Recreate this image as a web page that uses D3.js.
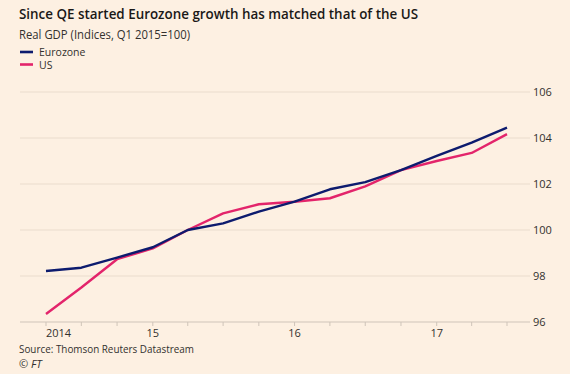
<!doctype html>
<html>
  <head>
    <meta charset="utf-8">
    <title>Eurozone vs US GDP</title>
    <style>
      html, body { margin: 0; padding: 0; background: #fdf0e2; }
      svg { display: block; font-family: "Open Sans", "Noto Sans", sans-serif; }
      .line { fill: none; stroke-width: 2.4px; stroke-linejoin: round; }
    </style>
  </head>
  <body>
    <svg id="chart" width="570" height="374"></svg>
    <script src="https://d3js.org/d3.v7.min.js"></script>
    <script>
      // quarterly real GDP, 2014 Q1 .. 2017 Q2 (Q1 2015 = 100)
      var quarters = ["2014Q1","2014Q2","2014Q3","2014Q4","2015Q1","2015Q2","2015Q3","2015Q4",
                      "2016Q1","2016Q2","2016Q3","2016Q4","2017Q1","2017Q2"];
      var eurozone = [98.22, 98.36, 98.8, 99.25, 100.0, 100.29, 100.8, 101.23,
                      101.77, 102.08, 102.6, 103.22, 103.8, 104.45];
      var us = [96.35, 97.5, 98.73, 99.2, 100.0, 100.72, 101.12, 101.23,
                101.38, 101.9, 102.6, 103.0, 103.35, 104.17];
      var yTicks = [96, 98, 100, 102, 104, 106];
      var yearTicks = ["2014", "15", "16", "17"];

      // each quarter is plotted at its end (= start of next quarter)
      function qDate(q) {
        var y = +q.slice(0, 4), n = +q.slice(5);
        return new Date(y, n * 3, 1);
      }

      var svg = d3.select("#chart");

      var x = d3.scaleTime()
        .domain([new Date(2014, 3, 1), new Date(2017, 6, 1)])
        .range([46, 507]);
      var y = d3.scaleLinear().domain([96, 106]).range([322, 92]);

      // gridlines + right hand labels
      svg.append("g").selectAll("line")
        .data(yTicks)
        .enter().append("line")
          .attr("x1", 20).attr("x2", 530)
          .attr("y1", function(d) { return y(d); })
          .attr("y2", function(d) { return y(d); })
          .attr("stroke", function(d) { return d == 96 ? "#cfc4b9" : "#eadccd"; })
          .attr("stroke-width", 1);

      svg.append("g").selectAll("text")
        .data(yTicks)
        .enter().append("text")
          .attr("x", 533)
          .attr("y", function(d) { return y(d) + 4; })
          .attr("font-size", 11)
          .attr("fill", "#33302e")
          .text(function(d) { return d; });

      // quarter ticks along the bottom
      var qTicks = d3.timeMonth.every(3).range(new Date(2014, 3, 1), new Date(2017, 7, 1));
      svg.append("g").selectAll("line")
        .data(qTicks)
        .enter().append("line")
          .attr("x1", function(d) { return x(d); })
          .attr("x2", function(d) { return x(d); })
          .attr("y1", 322).attr("y2", 326)
          .attr("stroke", "#cfc4b9");

      var yearDates = [new Date(2014, 3, 1), new Date(2015, 0, 1), new Date(2016, 0, 1), new Date(2017, 0, 1)];
      svg.append("g").selectAll("text")
        .data(yearTicks)
        .enter().append("text")
          .attr("x", function(d, i) { return x(yearDates[i]); })
          .attr("y", 337)
          .attr("text-anchor", function(d, i) { return i == 0 ? "start" : "middle"; })
          .attr("font-size", 11)
          .attr("fill", "#33302e")
          .text(function(d) { return d; });

      var line = d3.line()
        .x(function(d) { return x(qDate(d.q)); })
        .y(function(d) { return y(d.v); });

      var series = [
        { name: "Eurozone", color: "#0d1b6e", values: eurozone },
        { name: "US", color: "#e3246b", values: us }
      ];

      // US underneath, eurozone on top
      series.slice().reverse().forEach(function(s) {
        svg.append("path")
          .datum(s.values.map(function(v, i) { return { q: quarters[i], v: v }; }))
          .attr("class", "line")
          .attr("stroke", s.color)
          .attr("d", line);
      });

      // titles
      svg.append("text").attr("x", 19).attr("y", 19)
        .attr("font-size", 15).attr("font-weight", 600).attr("fill", "#1a1817")
        .attr("textLength", 399).attr("lengthAdjust", "spacingAndGlyphs")
        .text("Since QE started Eurozone growth has matched that of the US");
      svg.append("text").attr("x", 19).attr("y", 39)
        .attr("font-size", 12).attr("fill", "#33302e")
        .attr("textLength", 171).attr("lengthAdjust", "spacingAndGlyphs")
        .text("Real GDP (Indices, Q1 2015=100)");

      // legend
      series.forEach(function(s, i) {
        var ly = 52 + i * 12.5;
        svg.append("line")
          .attr("x1", 20).attr("x2", 33).attr("y1", ly).attr("y2", ly)
          .attr("stroke", s.color).attr("stroke-width", 2.6);
        svg.append("text").attr("x", 39).attr("y", ly + 4)
          .attr("font-size", 10.5).attr("fill", "#33302e")
          .text(s.name);
      });

      // footer
      svg.append("text").attr("x", 19).attr("y", 353)
        .attr("font-size", 11).attr("fill", "#33302e")
        .attr("textLength", 175).attr("lengthAdjust", "spacingAndGlyphs")
        .text("Source: Thomson Reuters Datastream");
      svg.append("text").attr("x", 19).attr("y", 368)
        .attr("font-size", 11).attr("font-style", "italic").attr("fill", "#33302e")
        .text("\u00a9 FT");
    </script>
  </body>
</html>
